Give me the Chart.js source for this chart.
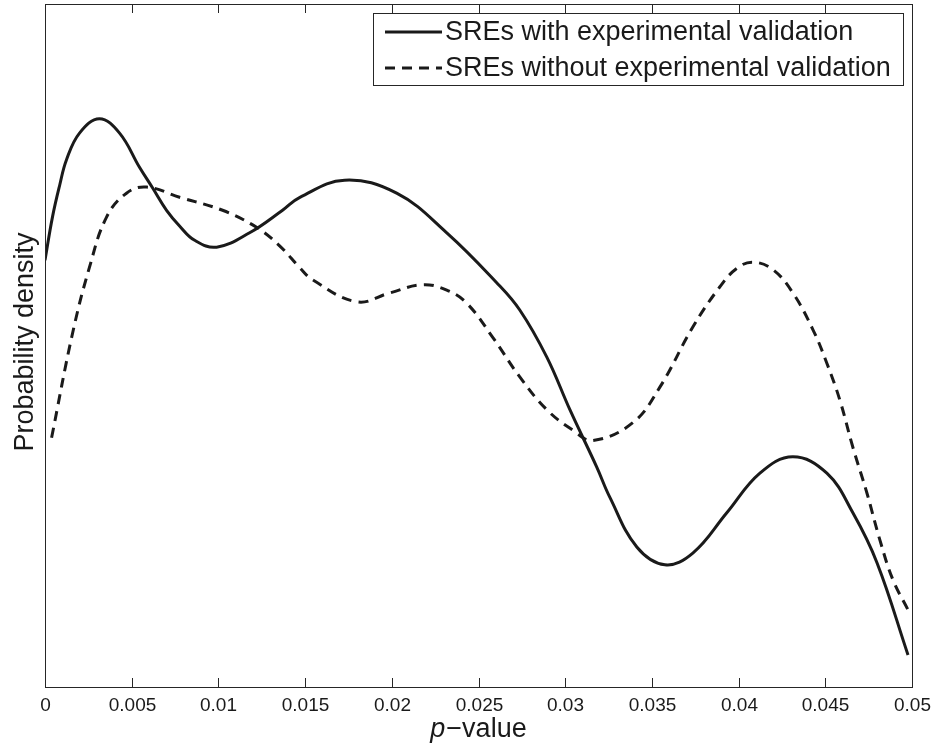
<!DOCTYPE html>
<html>
<head>
<meta charset="utf-8">
<script src="https://cdn.jsdelivr.net/npm/chart.js@4.4.1/dist/chart.umd.min.js"></script>
<style>
  body { margin: 0; background: #fff; }
  #wrap { width: 934px; height: 747px; }
</style>
</head>
<body>
<div id="wrap"><canvas id="kde" width="934" height="747"></canvas></div>
<script>
// Données (densité en unités arbitraires, 0..100)
const xTicks = [0, 0.005, 0.01, 0.015, 0.02, 0.025, 0.03, 0.035, 0.04, 0.045, 0.05];
const tickLabels = ['0', '0.005', '0.01', '0.015', '0.02', '0.025', '0.03', '0.035', '0.04', '0.045', '0.05'];

const withX = [0, 0.00043, 0.00085, 0.00124, 0.00199, 0.00314, 0.0043, 0.00545, 0.0062, 0.00701,
  0.00776, 0.00863, 0.0099, 0.0118, 0.0137, 0.0147, 0.01728, 0.02028, 0.02317, 0.02605,
  0.02738, 0.02894, 0.03027, 0.03182, 0.03257, 0.03413, 0.03575, 0.03736, 0.03932, 0.04123,
  0.04313, 0.04509, 0.04659, 0.04798, 0.04977];
const withY = [62.5, 68.8, 73.5, 77.2, 81.1, 83.2, 81.1, 76.1, 73.1, 69.8,
  67.5, 65.4, 64.4, 66.5, 69.8, 71.7, 74.2, 72.3, 66.5, 59.2,
  55.2, 48.3, 40.6, 32.2, 27.8, 20.5, 17.9, 19.6, 25.5, 31.3,
  33.7, 31.3, 25.5, 18.2, 4.7];

const withoutX = [0.00038, 0.00159, 0.00257, 0.00355, 0.0047, 0.00586, 0.00776, 0.01024, 0.0122, 0.01353,
  0.01469, 0.01544, 0.01798, 0.01988, 0.02178, 0.02317, 0.02432, 0.02582, 0.02738, 0.02894,
  0.03044, 0.0316, 0.0339, 0.03546, 0.03736, 0.03892, 0.0399, 0.04082, 0.04198, 0.04313,
  0.04429, 0.04509, 0.04584, 0.04659, 0.0474, 0.04815, 0.0489, 0.04977];
const withoutY = [36.5, 51.8, 61.5, 68.8, 72.3, 73.2, 71.7, 69.8, 67.3, 64.6,
  61.4, 59.6, 56.4, 57.7, 58.9, 58.1, 56.2, 51.2, 45.4, 40.6,
  37.6, 36.1, 38.7, 43.9, 52.7, 58.6, 61.3, 62.2, 61.1, 57.7,
  52.3, 47.4, 42.0, 35.1, 28.4, 21.5, 15.7, 11.3];

const seriesNames = ['SREs with experimental validation', 'SREs without experimental validation'];

const FONT = '"Liberation Sans", Arial, Helvetica, sans-serif';
const INK = '#1a1a1a';

function toPoints(xs, ys) {
    return xs.map((x, i) => ({ x, y: ys[i] }));
}

// Cadre, graduations, titres et légende
const framePlugin = {
    id: 'frame',
    afterDraw(chart) {
        const { ctx, chartArea: a, scales: { x } } = chart;
        ctx.save();
        ctx.strokeStyle = '#262626';
        ctx.lineWidth = 1;
        ctx.strokeRect(a.left + 0.5, a.top + 0.5, a.right - a.left, a.bottom - a.top);

        // graduations vers l'intérieur, en bas et en haut
        ctx.fillStyle = INK;
        ctx.font = '19px ' + FONT;
        ctx.textAlign = 'center';
        ctx.textBaseline = 'alphabetic';
        xTicks.forEach((v, i) => {
            const px = Math.round(x.getPixelForValue(v)) + 0.5;
            ctx.beginPath();
            ctx.moveTo(px, a.bottom);
            ctx.lineTo(px, a.bottom - 9);
            ctx.moveTo(px, a.top);
            ctx.lineTo(px, a.top + 9);
            ctx.stroke();
            ctx.fillText(tickLabels[i], px, a.bottom + 24);
        });

        // titre axe x : p en italique
        ctx.font = 'italic 27px ' + FONT;
        const wP = ctx.measureText('p').width;
        ctx.font = '27px ' + FONT;
        const wRest = ctx.measureText('\u2212value').width;
        let sx = 478 - (wP + wRest) / 2;
        ctx.textAlign = 'left';
        ctx.font = 'italic 27px ' + FONT;
        ctx.fillText('p', sx, 737);
        ctx.font = '27px ' + FONT;
        ctx.fillText('\u2212value', sx + wP + 1, 737);

        // titre axe y
        ctx.save();
        ctx.translate(33, 342);
        ctx.rotate(-Math.PI / 2);
        ctx.textAlign = 'center';
        ctx.fillText('Probability density', 0, 0);
        ctx.restore();

        // légende
        const box = { l: 373, t: 13, r: 903, b: 85 };
        ctx.fillStyle = '#fff';
        ctx.fillRect(box.l, box.t, box.r - box.l, box.b - box.t);
        ctx.strokeStyle = '#262626';
        ctx.lineWidth = 1;
        ctx.strokeRect(box.l + 0.5, box.t + 0.5, box.r - box.l, box.b - box.t);
        const rows = [32, 68];
        chart.data.datasets.forEach((ds, i) => {
            const y = rows[i];
            ctx.strokeStyle = ds.borderColor;
            ctx.lineWidth = ds.borderWidth;
            ctx.setLineDash(ds.borderDash || []);
            ctx.beginPath();
            ctx.moveTo(385, y);
            ctx.lineTo(442, y);
            ctx.stroke();
            ctx.setLineDash([]);
            ctx.fillStyle = INK;
            ctx.font = '27px ' + FONT;
            ctx.textAlign = 'left';
            ctx.textBaseline = 'middle';
            ctx.fillText(ds.label, 445, y + 1);
        });
        ctx.restore();
    }
};

const chart = new Chart(document.getElementById('kde'), {
    type: 'line',
    data: {
        datasets: [
            {
                label: seriesNames[0],
                data: toPoints(withX, withY),
                borderColor: INK,
                borderWidth: 3,
                pointRadius: 0,
                fill: false,
                tension: 0.4
            },
            {
                label: seriesNames[1],
                data: toPoints(withoutX, withoutY),
                borderColor: INK,
                borderWidth: 3,
                borderDash: [10, 7],
                pointRadius: 0,
                fill: false,
                tension: 0.4
            }
        ]
    },
    options: {
        responsive: false,
        animation: false,
        layout: { padding: { left: 45, top: 4, right: 22, bottom: 60 } },
        plugins: { legend: { display: false }, tooltip: { enabled: false } },
        scales: {
            x: { type: 'linear', min: 0, max: 0.05, display: false },
            y: { type: 'linear', min: 0, max: 100, display: false }
        }
    },
    plugins: [framePlugin]
});
</script>
</body>
</html>
